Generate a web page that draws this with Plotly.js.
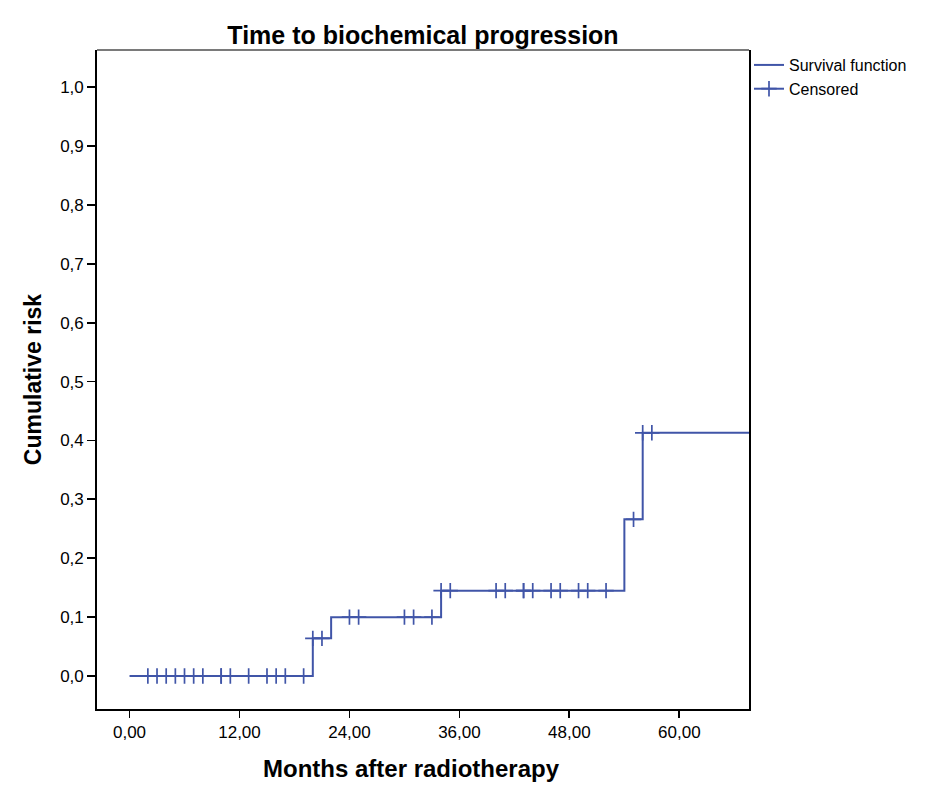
<!DOCTYPE html>
<html>
<head>
<meta charset="utf-8">
<script src="https://cdn.plot.ly/plotly-3.0.1.min.js"></script>
<style>html,body{margin:0;padding:0;background:#fff;}#chart{width:945px;height:807px;}</style>
</head>
<body>
<div id="chart"></div>
<script>
// Step curve (cumulative risk)
const stepTimes = [0, 20, 22, 34, 54, 56, 67.6];
const stepRisk  = [0.0, 0.064, 0.100, 0.145, 0.266, 0.413, 0.413];

// Censored observations (months) and the risk level at which they sit
const censorTimes = [2, 3, 4, 5, 6, 7, 8, 10, 10, 11, 13, 15, 16, 17, 19,
                     20, 21,
                     24, 25, 30, 31, 33,
                     34, 35, 40, 41, 43, 43, 44, 46, 47, 49, 50, 52,
                     55,
                     56, 57];
const censorRisk = [0, 0, 0, 0, 0, 0, 0, 0, 0, 0, 0, 0, 0, 0, 0,
                    0.064, 0.064,
                    0.100, 0.100, 0.100, 0.100, 0.100,
                    0.145, 0.145, 0.145, 0.145, 0.145, 0.145, 0.145, 0.145, 0.145, 0.145, 0.145, 0.145,
                    0.266,
                    0.413, 0.413];

const xTicks = [0, 12, 24, 36, 48, 60];
const yTicks = [0, 0.1, 0.2, 0.3, 0.4, 0.5, 0.6, 0.7, 0.8, 0.9, 1.0];

const blue = '#4055a8';
const font = '"Liberation Sans", Arial, sans-serif';

const traces = [
  {
    x: stepTimes, y: stepRisk, type: 'scatter', mode: 'lines',
    line: {shape: 'hv', color: blue, width: 2},
    name: 'Survival function', hoverinfo: 'skip'
  },
  {
    x: censorTimes, y: censorRisk, type: 'scatter', mode: 'markers',
    marker: {symbol: 'cross-thin-open', size: 11, color: blue, line: {color: blue, width: 1.7}},
    showlegend: false, name: 'Censored', hoverinfo: 'skip'
  },
  {
    x: [null], y: [null], type: 'scatter', mode: 'lines+markers',
    line: {color: blue, width: 2},
    marker: {symbol: 'cross-thin-open', size: 11, color: blue, line: {color: blue, width: 1.7}},
    name: 'Censored'
  }
];

const layout = {
  width: 945, height: 807,
  margin: {l: 97, r: 196, t: 50, b: 98, pad: 0},
  paper_bgcolor: '#ffffff', plot_bgcolor: '#ffffff',
  separators: ',.',
  font: {family: font, color: '#000', size: 16},
  title: {
    text: '<b>Time to biochemical progression</b>',
    font: {family: font, size: 25, color: '#000'},
    x: 0.5, xref: 'paper', xanchor: 'center',
    y: 1, yref: 'paper', yanchor: 'bottom', pad: {b: 6}
  },
  xaxis: {
    range: [-3.55, 67.6], tickvals: xTicks, tickformat: '.2f',
    ticks: 'outside', ticklen: 7, tickwidth: 1.8, tickcolor: '#000',
    showline: true, linecolor: '#000', linewidth: 1.8, mirror: false,
    showgrid: false, zeroline: false,
    tickfont: {family: font, size: 17, color: '#000'}
  },
  yaxis: {
    range: [-0.056, 1.063], tickvals: yTicks, tickformat: '.1f',
    ticks: 'outside', ticklen: 8, tickwidth: 1.8, tickcolor: '#000',
    showline: true, linecolor: '#000', linewidth: 1.8, mirror: true,
    showgrid: false, zeroline: false,
    tickfont: {family: font, size: 17, color: '#000'},
    title: {text: '<b>Cumulative risk</b>', font: {family: font, size: 23, color: '#000'}, standoff: 12}
  },
  annotations: [
    {text: '<b>Months after radiotherapy</b>', xref: 'paper', yref: 'paper',
     x: 0.482, y: -0.091, xanchor: 'center', yanchor: 'middle', showarrow: false,
     font: {family: font, size: 24, color: '#000'}}
  ],
  shapes: [
    {type: 'line', xref: 'paper', yref: 'paper', x0: 0, x1: 1, y0: 1, y1: 1,
     line: {color: '#7a7a7a', width: 2}}
  ],
  legend: {
    x: 1.0, xref: 'paper', xanchor: 'left', y: 1.003, yanchor: 'top',
    font: {family: font, size: 16, color: '#000'},
    bgcolor: 'rgba(0,0,0,0)', borderwidth: 0,
    tracegroupgap: 0, itemwidth: 30
  },
  showlegend: true
};

Plotly.newPlot('chart', traces, layout, {staticPlot: true, displayModeBar: false});
</script>
</body>
</html>
